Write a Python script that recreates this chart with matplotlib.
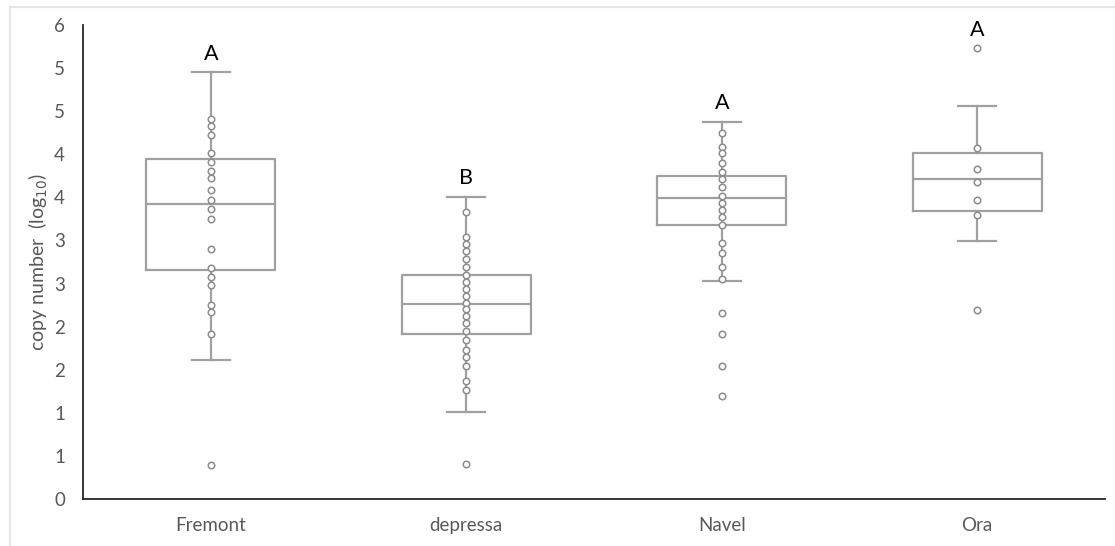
import matplotlib
matplotlib.use("Agg")
import matplotlib.pyplot as plt
from matplotlib.lines import Line2D

# Cultivars and per-sample copy numbers (log10)
categories = ["Fremont", "depressa", "Navel", "Ora"]

fremont = [4.41, 4.33, 4.22, 4.02, 3.91, 3.81, 3.72, 3.59, 3.47, 3.37, 3.25,
           2.90, 2.68, 2.58, 2.48, 2.25, 2.17, 1.92, 0.39]
depressa = [3.33, 3.04, 2.96, 2.88, 2.79, 2.69, 2.60, 2.52, 2.44, 2.36, 2.28,
            2.20, 2.12, 2.04, 1.95, 1.85, 1.73, 1.65, 1.54, 1.37, 1.27, 0.41]
navel = [4.25, 4.09, 4.02, 3.90, 3.80, 3.71, 3.62, 3.52, 3.44, 3.35, 3.27,
         3.18, 2.97, 2.85, 2.69, 2.55, 2.16, 1.92, 1.54, 1.19]
ora = [5.23, 4.07, 3.83, 3.68, 3.47, 3.29, 2.19]
samples = [fremont, depressa, navel, ora]

# Box summaries: whisker low, Q1, median, Q3, whisker high
whisker_low = [1.61, 1.01, 2.53, 2.99]
q1 = [2.66, 1.92, 3.18, 3.34]
median = [3.42, 2.26, 3.49, 3.71]
q3 = [3.94, 2.60, 3.75, 4.01]
whisker_high = [4.95, 3.51, 4.38, 4.56]

# Significance groups
groups = ["A", "B", "A", "A"]

y_ticks = [0, 0.5, 1, 1.5, 2, 2.5, 3, 3.5, 4, 4.5, 5, 5.5]
y_tick_labels = ["0", "1", "1", "2", "2", "3", "3", "4", "4", "5", "5", "6"]

text_gray = "#595959"
line_gray = "#a0a0a0"
marker_gray = "#8c8c8c"

plt.rcParams["font.family"] = ["Lato", "DejaVu Sans"]

fig = plt.figure(figsize=(11.15, 5.46), dpi=100)
fig.patch.set_facecolor("white")
W, H = 1115, 546
ax = fig.add_axes([83 / W, (H - 499) / H, (1105 - 83) / W, (499 - 25) / H])

positions = list(range(1, len(categories) + 1))
stats = []
for i, name in enumerate(categories):
    stats.append(dict(label=name, whislo=whisker_low[i], q1=q1[i], med=median[i],
                      q3=q3[i], whishi=whisker_high[i], fliers=[]))

ax.bxp(stats, positions=positions, widths=0.505, showfliers=False,
       boxprops=dict(color=line_gray, linewidth=1.6),
       medianprops=dict(color=line_gray, linewidth=1.6),
       whiskerprops=dict(color=line_gray, linewidth=1.6),
       capprops=dict(color=line_gray, linewidth=1.6),
       capwidths=0.15)

for pos, vals in zip(positions, samples):
    ax.scatter([pos] * len(vals), vals, s=22, facecolor="white",
               edgecolor=marker_gray, linewidth=1.1, zorder=3)

# Group letters sit above the highest mark of each cultivar
for pos, g, top, vals in zip(positions, groups, whisker_high, samples):
    ax.annotate(g, xy=(pos, max(top, max(vals))), xytext=(0, 6),
                textcoords="offset points", ha="center", va="bottom",
                fontsize=15.5, color="black", clip_on=False)

ax.set_xlim(0.5, 4.5)
ax.set_ylim(0, 5.5)
ax.set_yticks(y_ticks)
ax.set_yticklabels(y_tick_labels)
ax.set_xticks(positions)
ax.set_xticklabels(categories)
ax.tick_params(axis="both", length=0, colors=text_gray, labelsize=13.5)
ax.tick_params(axis="y", pad=13)
ax.tick_params(axis="x", pad=13)

for side in ["top", "right"]:
    ax.spines[side].set_visible(False)
for side in ["left", "bottom"]:
    ax.spines[side].set_color("#262626")
    ax.spines[side].set_linewidth(1.3)

ax.set_ylabel("copy number  (log$_{10}$)", color=text_gray, fontsize=14, labelpad=3)

# Light chart-area frame
fig.add_artist(Line2D([10 / W, 1.0], [1 - 7 / H, 1 - 7 / H], color="#e6e6e6", linewidth=1.5))
fig.add_artist(Line2D([10 / W, 10 / W], [0, 1 - 7 / H], color="#e6e6e6", linewidth=1.5))

fig.savefig("out.png", dpi=100, facecolor="white")
